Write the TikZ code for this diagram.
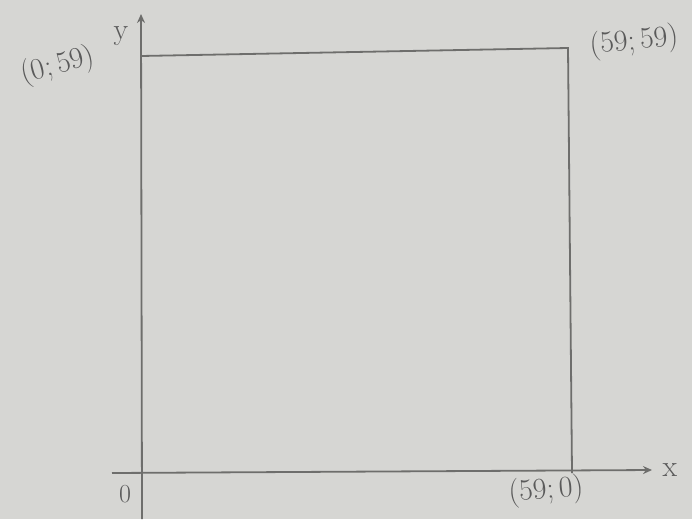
\documentclass[tikz,border=0pt]{standalone}
\usetikzlibrary{arrows.meta}
\definecolor{paper}{HTML}{D6D6D3}
\definecolor{pencil}{HTML}{6E6E6C}
\definecolor{ink}{HTML}{5A5A5A}
\tikzset{
  line/.style={draw=pencil, line width=1.8pt},
  axis/.style={line, -{Stealth[length=9pt,width=8pt]}},
  lbl/.style={text=ink, font=\fontsize{30}{30}\selectfont, inner sep=0pt}
}
\begin{document}
\begin{tikzpicture}[x=1pt,y=-1pt]
\fill[paper] (0,0) rectangle (692,519);
\useasboundingbox (0,0) rectangle (692,519);
% coordinates
\coordinate (yb) at (142,519);
\coordinate (yt) at (141,14);
\coordinate (xl) at (112,473);
\coordinate (xr) at (652,470);
\coordinate (tl) at (141,56);
\coordinate (tr) at (568,48);
\coordinate (br) at (572,473);
% axes
\draw[axis] (yb) -- (yt);
\draw[axis] (xl) -- (xr);
% square
\draw[line] (tl) -- (tr) -- (br);
% labels
\node[lbl, rotate=15] (l059) at (58,66) {(0;\,59)};
\node[lbl] (ly) at (121,36) {y};
\node[lbl, rotate=6] (l5959) at (634,42) {(59;\,59)};
\node[lbl, rotate=5] (l590) at (546,491) {(59;\,0)};
\node[lbl, font=\fontsize{26}{26}\selectfont] (lo) at (125,494) {0};
\node[lbl] (lx) at (670,470) {x};
\end{tikzpicture}
\end{document}
